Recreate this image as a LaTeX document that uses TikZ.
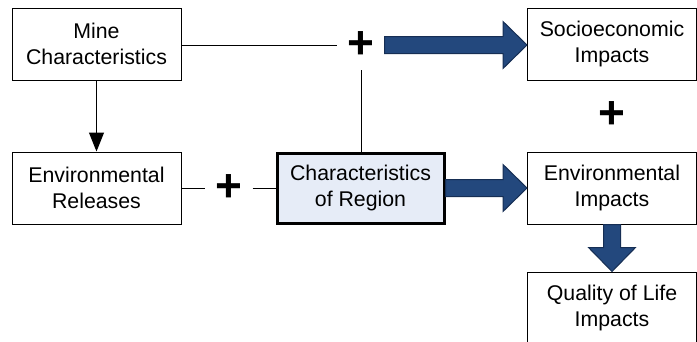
\documentclass[tikz,border=0pt]{standalone}
\usepackage{fontspec}
\setmainfont{Liberation Sans}
\usetikzlibrary{arrows.meta,%
                calc}
\definecolor{arrowblue}{RGB}{35,72,125}
\definecolor{arrowedge}{RGB}{22,46,84}
\definecolor{regionfill}{RGB}{230,236,247}

\begin{document}
\begin{tikzpicture}[x=1pt,y=-1pt]
		\tikzstyle{Box}=[draw,line width=1pt,minimum width=169pt,minimum height=72pt,inner sep=0pt,align=center,font=\fontsize{21.3}{26.6}\selectfont]
		\tikzstyle{Plus}=[minimum width=47pt,minimum height=50pt,inner sep=0pt,font=\fontsize{46}{46}\selectfont\bfseries]
		\tikzstyle{Thin}=[line width=1pt]
		\tikzstyle{FatArrow}=[fill=arrowblue,draw=arrowedge,line width=1pt,
			to path={let \p1=(\tikztostart), \p2=(\tikztotarget),
				\n1={atan2(\y2-\y1,\x2-\x1)}, \n2={veclen(\x2-\x1,\y2-\y1)} in
				{[shift={(\p1)},rotate=\n1] (0pt,8.5pt) -- (\n2-24pt,8.5pt) -- (\n2-24pt,23.5pt)
				-- (\n2,0pt) -- (\n2-24pt,-23.5pt) -- (\n2-24pt,-8.5pt) -- (0pt,-8.5pt) -- cycle}}]
		\useasboundingbox (0,0) rectangle (697,341);
		% left column
		\node[Box] (Mine) at (96.5,44) {Mine\\Characteristics};
		\node[Box] (EnvRel) at (96.5,188) {Environmental\\Releases};
		% region in the middle
		\node[Box,fill=regionfill,line width=3pt,minimum width=167pt,minimum height=70pt] (Region) at (360.5,188) {Characteristics\\of Region};
		% right column
		\node[Box] (Socio) at (612,44) {Socioeconomic\\Impacts};
		\node[Box] (EnvImp) at (612,188) {Environmental\\Impacts};
		\node[Box] (Quality) at (612,308) {Quality of Life\\Impacts};
		% plus signs
		\node[Plus] (PlusTop) at (361,45) {+};
		\node[Plus] (PlusMid) at (229,188) {+};
		\node[Plus] (PlusRight) at (612,115) {+};
		% thin links
		\draw[Thin,-{Triangle[width=15pt,length=19pt]}] (Mine) -- (EnvRel);
		\draw[Thin] (Mine.east |- PlusTop.west) -- (PlusTop.west);
		\draw[Thin] (PlusTop.south) -- (PlusTop.south |- Region.north);
		\draw[Thin] (EnvRel) -- (PlusMid);
		\draw[Thin] (PlusMid) -- (Region);
		% big arrows
		\draw[FatArrow] (PlusTop.east) to (PlusTop.east -| Socio.west);
		\draw[FatArrow] (Region.east) to (EnvImp.west);
		\draw[FatArrow] (EnvImp.south) to (Quality.north);
	\end{tikzpicture}
\end{document}
